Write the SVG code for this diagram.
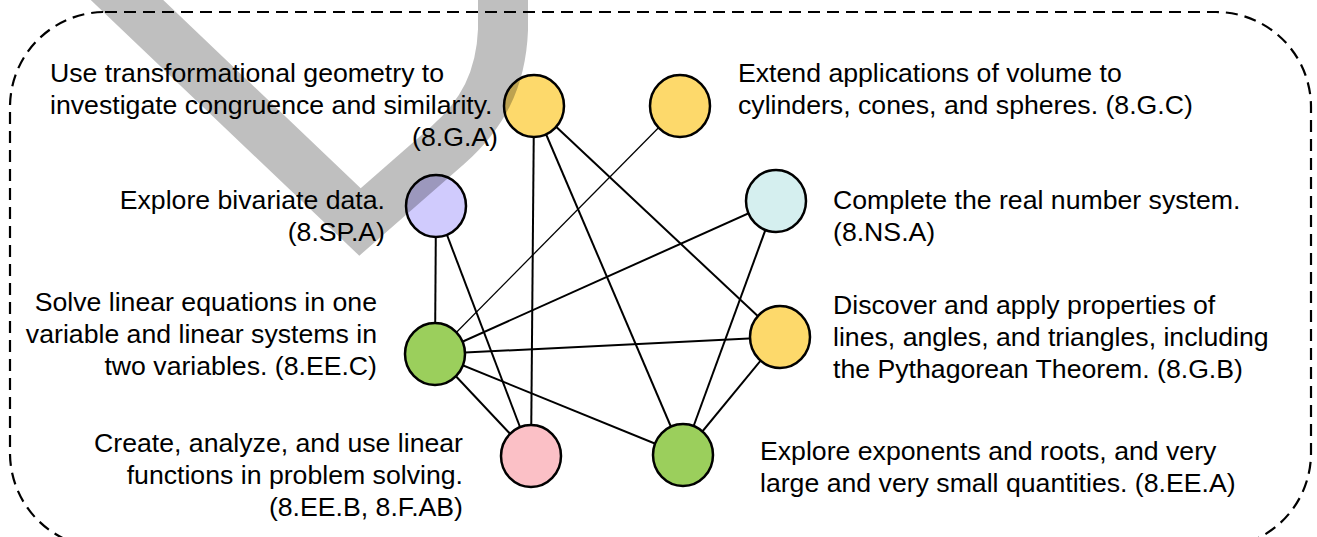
<svg xmlns="http://www.w3.org/2000/svg" width="1317" height="537" viewBox="0 0 1317 537">
<style>
text{font-family:"Liberation Sans",Arial,sans-serif;font-size:26.67px;fill:#000}
.r{text-anchor:end}
.n{stroke:#000;stroke-width:2.5}
.e{stroke:#000;stroke-width:2;fill:none}
.thin{stroke-width:1.3}
</style>
<rect x="10" y="12" width="1301" height="536" rx="95" ry="95" fill="none" stroke="#000" stroke-width="2.2" stroke-dasharray="12,7"/>
<g id="connectors">
<line class="e" x1="534" y1="106" x2="531" y2="456"/>
<line class="e" x1="534" y1="106" x2="683" y2="455"/>
<line class="e" x1="534" y1="106" x2="780" y2="337"/>
<line class="e thin" x1="680" y1="106" x2="435" y2="354"/>
<line class="e" x1="436" y1="206" x2="435" y2="354"/>
<line class="e" x1="436" y1="206" x2="531" y2="456"/>
<line class="e" x1="776" y1="201" x2="435" y2="354"/>
<line class="e" x1="776" y1="201" x2="683" y2="455"/>
<line class="e" x1="435" y1="354" x2="780" y2="337"/>
<line class="e" x1="435" y1="354" x2="531" y2="456"/>
<line class="e" x1="435" y1="354" x2="683" y2="455"/>
<line class="e" x1="780" y1="337" x2="683" y2="455"/>
</g>
<g id="n-8GA">
<ellipse class="n" cx="534" cy="106" rx="30" ry="31" fill="#FDD96B"/>
<text x="50" y="82">Use transformational geometry to</text>
<text x="50" y="114">investigate congruence and similarity.</text>
<text class="r" x="498" y="146">(8.G.A)</text>
</g>
<g id="n-8GC">
<ellipse class="n" cx="680" cy="106" rx="30" ry="31" fill="#FDD96B"/>
<text x="738" y="82">Extend applications of volume to</text>
<text x="738" y="114">cylinders, cones, and spheres. (8.G.C)</text>
</g>
<g id="n-8SPA">
<ellipse class="n" cx="436" cy="206" rx="30" ry="31" fill="#D0CBFD"/>
<text class="r" x="385" y="209">Explore bivariate data.</text>
<text class="r" x="385" y="241">(8.SP.A)</text>
</g>
<g id="n-8NSA">
<ellipse class="n" cx="776" cy="201" rx="30" ry="31" fill="#D5EFEF"/>
<text x="833" y="209">Complete the real number system.</text>
<text x="833" y="241">(8.NS.A)</text>
</g>
<g id="n-8EEC">
<ellipse class="n" cx="435" cy="354" rx="30" ry="31" fill="#9BCF5C"/>
<text class="r" x="377" y="311">Solve linear equations in one</text>
<text class="r" x="377" y="343">variable and linear systems in</text>
<text class="r" x="377" y="375">two variables. (8.EE.C)</text>
</g>
<g id="n-8GB">
<ellipse class="n" cx="780" cy="337" rx="30" ry="31" fill="#FDD96B"/>
<text x="833" y="314">Discover and apply properties of</text>
<text x="833" y="346">lines, angles, and triangles, including</text>
<text x="833" y="378">the Pythagorean Theorem. (8.G.B)</text>
</g>
<g id="n-8F">
<ellipse class="n" cx="531" cy="456" rx="30" ry="31" fill="#FBC0C6"/>
<text class="r" x="463" y="452">Create, analyze, and use linear</text>
<text class="r" x="463" y="484">functions in problem solving.</text>
<text class="r" x="463" y="516">(8.EE.B, 8.F.AB)</text>
</g>
<g id="n-8EEA">
<ellipse class="n" cx="683" cy="455" rx="30" ry="31" fill="#9BCF5C"/>
<text x="760" y="460">Explore exponents and roots, and very</text>
<text x="760" y="492">large and very small quantities. (8.EE.A)</text>
</g>
<g id="checkmark">
<path d="M106,-20 L360,222 L448,145 C482,115 501,80 503,30 L503,-20" fill="none" stroke="#000" stroke-opacity="0.25" stroke-width="50" stroke-linejoin="miter"/>
</g>
</svg>
